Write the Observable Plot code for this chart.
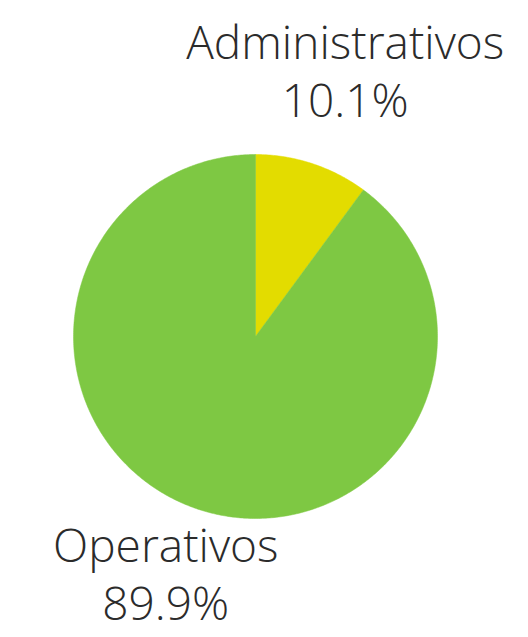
<!DOCTYPE html>
<html>
<head>
<meta charset="utf-8">
<script src="https://cdn.jsdelivr.net/npm/d3@7"></script>
<script src="https://cdn.jsdelivr.net/npm/@observablehq/plot@0.6"></script>
<style>
  html, body { margin: 0; padding: 0; background: #fff; }
  #chart { width: 528px; height: 637px; overflow: hidden; }
</style>
</head>
<body>
<div id="chart"></div>
<script>
const categories = ["Administrativos", "Operativos"];
const values = [10.1, 89.9];
const labels = ["10.1%", "89.9%"];
const colors = ["#e3dc00", "#7ec843"];

const pie = d3.pie().sort(null).value(d => d)(values);

// polygon points for each slice (angles measured clockwise from 12 o'clock)
const pts = [];
pie.forEach((p, i) => {
  const n = Math.max(2, Math.ceil((p.endAngle - p.startAngle) / 0.01));
  pts.push({cat: categories[i], x: 0, y: 0});
  for (let k = 0; k <= n; k++) {
    const a = p.startAngle + (p.endAngle - p.startAngle) * k / n;
    pts.push({cat: categories[i], x: Math.sin(a), y: Math.cos(a)});
  }
  pts.push({cat: categories[i], x: 0, y: 0});
});

const labelData = pie.map((p, i) => {
  const m = (p.startAngle + p.endAngle) / 2;
  const up = Math.cos(m) > 0;
  return {
    text: categories[i] + "\n" + labels[i],
    x: Math.sin(m) * 1.58,
    y: Math.cos(m) * (up ? 1.27 : 1.07),
    anchor: up ? "bottom" : "top"
  };
});

const textOpts = {x: "x", y: "y", text: "text", fontSize: 46, lineHeight: 1.25, fill: "#2b2b2b", fontFamily: "Open Sans", fontWeight: 300};

const chart = Plot.plot({
  width: 528,
  height: 637,
  marginLeft: 73,
  marginRight: 91,
  marginTop: 154,
  marginBottom: 119,
  x: {domain: [-1, 1], axis: null},
  y: {domain: [-1, 1], axis: null},
  color: {domain: categories, range: colors},
  style: {background: "#fff", overflow: "visible"},
  marks: [
    Plot.line(pts, {x: "x", y: "y", z: "cat", fill: "cat", stroke: "cat", strokeWidth: 0.5, curve: "linear"}),
    Plot.text(labelData.filter(d => d.anchor === "bottom"), {...textOpts, lineAnchor: "bottom"}),
    Plot.text(labelData.filter(d => d.anchor === "top"), {...textOpts, lineAnchor: "top"})
  ]
});
document.getElementById("chart").appendChild(chart);
</script>
</body>
</html>
